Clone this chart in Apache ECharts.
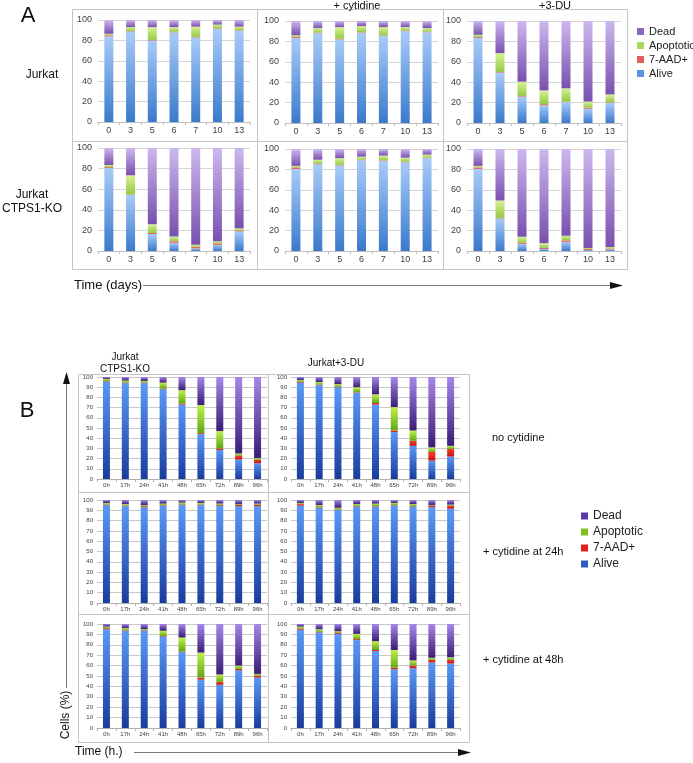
<!DOCTYPE html>
<html><head><meta charset="utf-8">
<script src="https://cdn.jsdelivr.net/npm/echarts@6/dist/echarts.min.js"></script>
<style>html,body{margin:0;padding:0;background:#fff}#c{width:693px;height:763px}</style>
</head><body><div id="c"></div><script>
// ---------- categories / labels ----------
const daysA = ['0','3','5','6','7','10','13'];
const hoursB = ['0h','17h','24h','41h','48h','65h','72h','89h','96h'];
const seriesNames = ['Alive','7-AAD+','Apoptotic','Dead'];
const legendOrder = ['Dead','Apoptotic','7-AAD+','Alive'];
const colTitlesA = ['+ cytidine','+3-DU'];
const rowLabelsA = ['Jurkat','Jurkat\nCTPS1-KO'];
const colTitlesB = ['Jurkat\nCTPS1-KO','Jurkat+3-DU'];
const rowLabelsB = ['no cytidine','+ cytidine at 24h','+ cytidine at 48h'];

// ---------- Panel A data (% cells), days ----------
// Jurkat
const A1_alive=[84,88.5,80,88,83,91.5,89.5];
const A1_aad=[1,0.5,0.5,0.5,0.5,0.5,0.5];
const A1_apop=[1.5,4,12.5,4.5,10,3.5,3.5];
const A1_dead=[13.5,7,7,7,6.5,4.5,6.5];
// Jurkat + cytidine
const A2_alive=[83.5,88,82,88.5,85.5,90,89];
const A2_aad=[1,0.5,0.5,0.5,0.5,0.5,0.5];
const A2_apop=[1.5,4.5,11.5,6,8,3.5,3.5];
const A2_dead=[14,7,6,5,6,6,7];
// Jurkat +3-DU
const A3_alive=[83.5,49.5,26,17.5,20.5,14,19.5];
const A3_aad=[1,0.5,0.5,1,0.5,1,0.5];
const A3_apop=[2,18.5,14,13.5,13,6,8];
const A3_dead=[13.5,31.5,59.5,68,66,79,72];
// CTPS1-KO
const A4_alive=[80.5,54.5,16.5,8,2.5,6,19];
const A4_aad=[1,0.5,1,1.5,1.5,1.5,1];
const A4_apop=[2,18.5,8.5,4.5,2,2,2];
const A4_dead=[16.5,26.5,74,86,94,90.5,78];
// CTPS1-KO + cytidine
const A5_alive=[80.5,85,84,89,88.5,87,91];
const A5_aad=[1.5,0.5,0.5,0.5,0.5,0.5,0.5];
const A5_apop=[1.5,4,6.5,3,4.5,4,3];
const A5_dead=[16.5,10.5,9,7.5,6.5,8.5,5.5];
// CTPS1-KO +3-DU
const A6_alive=[80.5,32,7,2,9,1,1.5];
const A6_aad=[1.5,0.5,1,1,1.5,1,1];
const A6_apop=[1.5,17,6,4.5,4.5,1,1.5];
const A6_dead=[16.5,50.5,86,92.5,85,97,96];

// ---------- Panel B data (% cells), hours ----------
const B1_alive=[95.5,94,94,88,73,44,28.5,19,15.5];
const B1_aad=[0.5,0.5,0.5,0.5,1,1,1.5,4,3.5];
const B1_apop=[2,2,1.5,6,13,27.5,17,2,1.5];
const B1_dead=[2,3.5,4,5.5,13,27.5,53,75,79.5];
const B2_alive=[94.5,92,90,84.5,73,46,32.5,18,22];
const B2_aad=[1,0.5,0.5,0.5,1.5,1.5,5,8.5,7.5];
const B2_apop=[1.5,2.5,2.5,5,8.5,23,10,4.5,3];
const B2_dead=[3,5,7,10,17,29.5,52.5,69,67.5];
const B3_alive=[95,94,93,94.5,95,95,94.5,94,94];
const B3_aad=[0.5,0.5,1,0.5,0.5,0.5,1,1.5,1.5];
const B3_apop=[1.5,1.5,1,1.5,2,1.5,1,0.5,1];
const B3_dead=[3,4,5,3.5,2.5,3,3.5,4,3.5];
const B4_alive=[94.5,92.5,90.5,93.5,93.5,94.5,93.5,93,91.5];
const B4_aad=[1.5,0.5,0.5,0.5,0.5,0.5,0.5,1.5,3];
const B4_apop=[1,2,1.5,2,2.5,2,2,0.5,1];
const B4_dead=[3,5,7.5,4,3.5,3,4,5,4.5];
const B5_alive=[95,93.5,93.5,88,73,46.5,41.5,55.5,48.5];
const B5_aad=[1,0.5,0.5,0.5,0.5,2,3,1.5,2];
const B5_apop=[1.5,2,1,5,13.5,24,7,3,1.5];
const B5_dead=[2.5,4,5,6.5,13,27.5,48.5,40,48];
const B6_alive=[94.5,92,90.5,84.5,74,56.5,57.5,63,62];
const B6_aad=[1,0.5,1,1,1,1.5,2.5,2.5,3.5];
const B6_apop=[2,2.5,1.5,5,8.5,17,5,2,2.5];
const B6_dead=[2.5,5,7,9.5,16.5,25,35,32.5,32];

// ---------- styling ----------
const FONT = '"Liberation Sans", Arial, sans-serif';
const colorsA = {'Alive':['#A8CBF8','#3A7ACB'],'7-AAD+':['#EE7D72','#D9544B'],'Apoptotic':['#D6F296','#96C846'],'Dead':['#CDB8EE','#7850AE']};
const colorsB = {'Alive':['#5A98F8','#1A3C9C'],'7-AAD+':['#F23C30','#C81710'],'Apoptotic':['#C0F24A','#60A618'],'Dead':['#A487E8','#3A1D76']};
const legendColA = {'Alive':'#5B95E0','7-AAD+':'#E2605A','Apoptotic':'#A8D862','Dead':'#8B66C0'};
const legendColB = {'Alive':'#2C5CC8','7-AAD+':'#E0201A','Apoptotic':'#80C020','Dead':'#5A3AA8'};
function grad(c){return new echarts.graphic.LinearGradient(0,0,0,1,[{offset:0,color:c[0]},{offset:1,color:c[1]}]);}

const panelsA = [
  {x:98,y:20,w:152,h:102,d:[A1_alive,A1_aad,A1_apop,A1_dead]},
  {x:285,y:21,w:153,h:102,d:[A2_alive,A2_aad,A2_apop,A2_dead]},
  {x:467,y:21,w:154,h:102,d:[A3_alive,A3_aad,A3_apop,A3_dead]},
  {x:98,y:148,w:152,h:103,d:[A4_alive,A4_aad,A4_apop,A4_dead]},
  {x:285,y:149,w:153,h:102,d:[A5_alive,A5_aad,A5_apop,A5_dead]},
  {x:467,y:149,w:154,h:102,d:[A6_alive,A6_aad,A6_apop,A6_dead]}
];
const panelsB = [
  {x:97,y:377,w:170,h:102,d:[B1_alive,B1_aad,B1_apop,B1_dead]},
  {x:291,y:377,w:169,h:102,d:[B2_alive,B2_aad,B2_apop,B2_dead]},
  {x:97,y:500,w:170,h:103,d:[B3_alive,B3_aad,B3_apop,B3_dead]},
  {x:291,y:500,w:169,h:103,d:[B4_alive,B4_aad,B4_apop,B4_dead]},
  {x:97,y:624,w:170,h:104,d:[B5_alive,B5_aad,B5_apop,B5_dead]},
  {x:291,y:624,w:169,h:104,d:[B6_alive,B6_aad,B6_apop,B6_dead]}
];

const grid=[],xAxis=[],yAxis=[],series=[];
function addPanel(p,cats,isA){
  const i=grid.length;
  grid.push({left:p.x,top:p.y,width:p.w,height:p.h,containLabel:false});
  xAxis.push({type:'category',gridIndex:i,data:cats,
    axisLine:{lineStyle:{color:isA?'#BDBDBD':'#B0B0B0',width:1}},
    axisTick:{show:true,length:3,lineStyle:{color:isA?'#BDBDBD':'#B0B0B0'}},
    axisLabel:{fontSize:isA?9:6,color:'#404040',margin:isA?4:3,fontFamily:FONT,interval:0}});
  yAxis.push({type:'value',gridIndex:i,min:0,max:100,interval:isA?20:10,
    axisLine:{show:false},axisTick:{show:false},
    splitLine:{lineStyle:{color:isA?'#D6D6D6':'#C8C8C8',width:1}},
    axisLabel:{fontSize:isA?9:6,color:'#404040',margin:isA?6:4,fontFamily:FONT}});
  const cols=isA?colorsA:colorsB;
  seriesNames.forEach((n,k)=>{
    series.push({type:'bar',name:n,xAxisIndex:i,yAxisIndex:i,stack:'s'+i,
      data:p.d[k],barWidth:isA?9:7,silent:true,
      itemStyle:{color:grad(cols[n])}});
  });
}
panelsA.forEach(p=>addPanel(p,daysA,true));
panelsB.forEach(p=>addPanel(p,hoursB,false));

// ---------- decorations ----------
const g=[];
function rect(x,y,w,h,c){g.push({type:'rect',shape:{x:x,y:y,width:w,height:h},style:{fill:null,stroke:c||'#C4C4C4',lineWidth:1},z:-1,silent:true});}
function txt(t,x,y,size,align){g.push({type:'text',silent:true,style:{text:t,x:x,y:y,font:size+'px '+FONT,fill:'#111',textAlign:align||'center',textVerticalAlign:'middle',lineHeight:Math.round(size*1.2)}});}
function line(x1,y1,x2,y2,c,w){g.push({type:'line',silent:true,shape:{x1:x1,y1:y1,x2:x2,y2:y2},style:{stroke:c||'#777',lineWidth:w||1}});}
function poly(pts){g.push({type:'polygon',silent:true,shape:{points:pts},style:{fill:'#111'}});}

// Panel A frames
rect(72.5,9.5,185,132);rect(257.5,9.5,186,132);rect(443.5,9.5,184,132);
rect(72.5,141.5,185,128);rect(257.5,141.5,186,128);rect(443.5,141.5,184,128);
txt('A',28,16,22,'center');
txt(colTitlesA[0],357,6,11);
txt(colTitlesA[1],555,6,11);
txt(rowLabelsA[0],42,75,12);
txt(rowLabelsA[1],32,202,12);
txt('Time (days)',74,285,13,'left');
line(143,285.5,614,285.5,'#777',1);
poly([[610,282],[623,285.5],[610,289]]);

// Panel B frames
rect(78.5,374.5,190,118);rect(268.5,374.5,201,118);
rect(78.5,492.5,190,122);rect(268.5,492.5,201,122);
rect(78.5,614.5,190,128);rect(268.5,614.5,201,128);
txt('B',27,411,22,'center');
txt(colTitlesB[0],125,363,10);
txt(colTitlesB[1],336,363,10);
txt(rowLabelsB[0],492,438,11,'left');
txt(rowLabelsB[1],483,552,11,'left');
txt(rowLabelsB[2],483,660,11,'left');
// vertical axis arrow
line(66.5,688,66.5,382,'#777',1);
poly([[63,384],[66.5,372],[70,384]]);
g.push({type:'text',silent:true,x:66,y:715,rotation:Math.PI/2,style:{text:'Cells (%)',x:0,y:0,font:'12px '+FONT,fill:'#111',textAlign:'center',textVerticalAlign:'middle'}});
txt('Time (h.)',75,752,12,'left');
line(134,752.5,462,752.5,'#777',1);
poly([[458,749],[471,752.5],[458,756]]);

function legendData(cols){return legendOrder.map(n=>({name:n,itemStyle:{color:cols[n]}}));}

const option={
  animation:false,
  backgroundColor:'#fff',
  textStyle:{fontFamily:FONT},
  grid:grid,xAxis:xAxis,yAxis:yAxis,series:series,
  legend:[
    {orient:'vertical',left:632,top:21,itemWidth:7,itemHeight:7,itemGap:3,selectedMode:false,
     icon:'rect',data:legendData(legendColA),textStyle:{fontSize:11,color:'#222',fontFamily:FONT}},
    {orient:'vertical',left:576,top:505,itemWidth:7,itemHeight:7,itemGap:4,selectedMode:false,
     icon:'rect',data:legendData(legendColB),textStyle:{fontSize:12,color:'#222',fontFamily:FONT}}
  ],
  graphic:g
};
const chart=echarts.init(document.getElementById('c'),null,{renderer:'canvas'});
chart.setOption(option);
</script></body></html>
